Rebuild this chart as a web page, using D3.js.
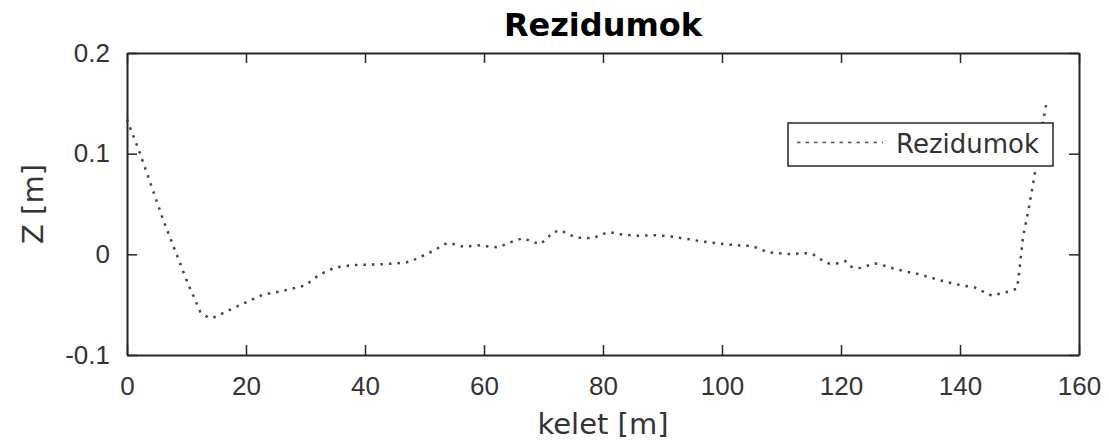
<!DOCTYPE html>
<html>
<head>
<meta charset="utf-8">
<script src="https://cdn.jsdelivr.net/npm/d3@7"></script>
<style>
body { margin: 0; background: #fff; }
svg { display: block; font-family: "DejaVu Sans", sans-serif; }
</style>
</head>
<body>
<svg id="chart" width="1109" height="444"></svg>
<script>
// kelet [m] positions and the residuals
var kelet = [0, 2.2, 6.1, 10.0, 12.3, 13.7, 14.5, 18.4, 22.9, 25.7, 28.5, 29.9, 32.4,
	35.0, 38.0, 42.5, 45.3, 47.0, 48.4, 51.2, 53.7, 55.1, 56.5, 59.3, 61.0, 62.4,
	64.9, 66.5, 68.0, 69.4, 70.5, 71.5, 72.8, 74.2, 75.6, 78.4, 79.8, 81.2, 82.6,
	85.6, 88.7, 90.1, 91.8, 93.2, 94.6, 96.3, 99.1, 100.5, 103.6, 105.0, 106.4,
	107.8, 110.9, 114.0, 115.3, 116.5, 117.9, 119.3, 120.7, 121.5, 122.9, 124.3,
	125.7, 127.1, 128.8, 131.6, 133.0, 136.8, 139.6, 142.5, 145.3, 148.2, 149.6,
	150.1, 150.6, 151.5, 152.3, 152.8, 154.0, 154.6];
var rezidum = [0.134, 0.100, 0.034, -0.0255, -0.057, -0.063, -0.063, -0.052, -0.040,
	-0.037, -0.033, -0.031, -0.020, -0.013, -0.0106, -0.010, -0.009, -0.008, -0.005,
	0.0026, 0.011, 0.010, 0.0076, 0.009, 0.0076, 0.007, 0.013, 0.016, 0.013, 0.010,
	0.015, 0.0215, 0.024, 0.020, 0.0165, 0.016, 0.020, 0.022, 0.020, 0.0185, 0.019,
	0.0185, 0.0175, 0.016, 0.015, 0.013, 0.011, 0.010, 0.0085, 0.0085, 0.005, 0.002,
	0.0003, 0.001, 0, -0.0047, -0.009, -0.009, -0.0067, -0.012, -0.014, -0.0116,
	-0.009, -0.011, -0.014, -0.018, -0.0196, -0.026, -0.030, -0.033, -0.041, -0.037,
	-0.034, -0.009, 0.0175, 0.044, 0.0705, 0.089, 0.133, 0.153];

var xTicks = [0, 20, 40, 60, 80, 100, 120, 140, 160];
var yTicks = [-0.1, 0, 0.1, 0.2];

var plotL = 127, plotR = 1079, plotT = 53, plotB = 355;
var axisColor = "#262626";

var svg = d3.select("#chart");

var xScale = d3.scaleLinear().domain([0, 160]).range([plotL, plotR]);
var yScale = d3.scaleLinear().domain([-0.1, 0.2]).range([plotB, plotT]);

function styleAxis(g){
	g.select(".domain").attr("stroke", axisColor).attr("stroke-width", 2);
	g.selectAll(".tick line").attr("stroke", axisColor).attr("stroke-width", 1.5);
	g.selectAll(".tick text").attr("fill", "#333").style("font-size", "26px");
}

// bottom & left with labels, top & right only ticks (box on)
var xAxis = d3.axisBottom(xScale).tickValues(xTicks).tickSizeInner(-10).tickSizeOuter(0).tickPadding(22);
svg.append("g").attr("transform", "translate(0," + plotB + ")").call(xAxis).call(styleAxis);

var xTop = d3.axisTop(xScale).tickValues(xTicks).tickSizeInner(-10).tickSizeOuter(0).tickFormat("");
svg.append("g").attr("transform", "translate(0," + plotT + ")").call(xTop).call(styleAxis);

var yAxis = d3.axisLeft(yScale).tickValues(yTicks).tickSizeInner(-10).tickSizeOuter(0).tickPadding(17)
	.tickFormat(function(d){ return d === 0 ? "0" : String(d); });
svg.append("g").attr("transform", "translate(" + plotL + ",0)").call(yAxis).call(styleAxis);

var yRight = d3.axisRight(yScale).tickValues(yTicks).tickSizeInner(-10).tickSizeOuter(0).tickFormat("");
svg.append("g").attr("transform", "translate(" + plotR + ",0)").call(yRight).call(styleAxis);

// residual line
var pts = kelet.map(function(k, i){ return [k, rezidum[i]]; });
var line = d3.line()
	.x(function(d){ return xScale(d[0]); })
	.y(function(d){ return yScale(d[1]); });

svg.append("path")
	.datum(pts)
	.attr("d", line)
	.attr("fill", "none")
	.attr("stroke", "#444")
	.attr("stroke-width", 2.5)
	.attr("stroke-dasharray", "2.5,6");

// title
svg.append("text")
	.attr("x", (plotL + plotR) / 2)
	.attr("y", 36)
	.attr("text-anchor", "middle")
	.style("font-size", "32px")
	.style("font-weight", "bold")
	.attr("fill", "#000")
	.text("Rezidumok");

// axis labels
svg.append("text")
	.attr("x", (plotL + plotR) / 2)
	.attr("y", 434)
	.attr("text-anchor", "middle")
	.style("font-size", "29px")
	.attr("fill", "#333")
	.text("kelet [m]");

svg.append("text")
	.attr("transform", "translate(43," + ((plotT + plotB) / 2) + ") rotate(-90)")
	.attr("text-anchor", "middle")
	.style("font-size", "29px")
	.attr("fill", "#333")
	.text("Z [m]");

// legend
var legend = svg.append("g");
legend.append("rect")
	.attr("x", 788).attr("y", 123)
	.attr("width", 265).attr("height", 43)
	.attr("fill", "#fff")
	.attr("stroke", axisColor)
	.attr("stroke-width", 1.5);
legend.append("line")
	.attr("x1", 797).attr("x2", 883)
	.attr("y1", 142.5).attr("y2", 142.5)
	.attr("stroke", "#555")
	.attr("stroke-width", 1.5)
	.attr("stroke-dasharray", "3.5,5");
legend.append("text")
	.attr("x", 896).attr("y", 153)
	.style("font-size", "26px")
	.attr("fill", "#333")
	.text("Rezidumok");
</script>
</body>
</html>
